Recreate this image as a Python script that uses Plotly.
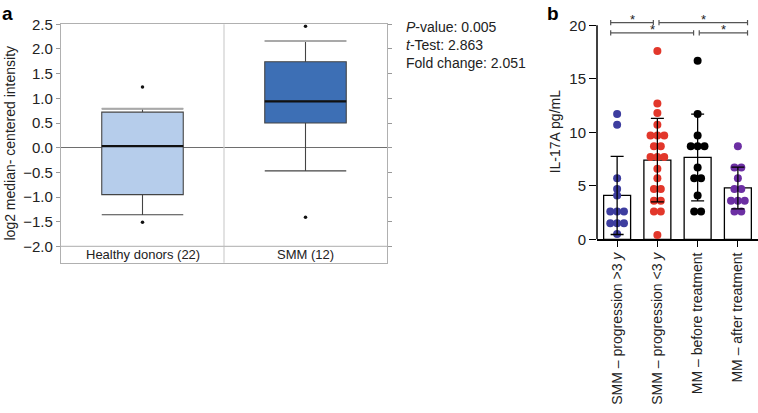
import plotly.graph_objects as go
from collections import Counter

# ---------------- Panel a data ----------------
a_categories = ["Healthy donors (22)", "SMM (12)"]
a_q1 = [-0.95, 0.50]
a_median = [0.03, 0.94]
a_q3 = [0.72, 1.74]
a_lower_whisker = [-1.36, -0.47]
a_upper_whisker = [0.79, 2.16]
a_outliers_healthy = [1.23, -1.51]
a_outliers_smm = [2.46, -1.41]
a_fill = ["#b6cdeb", "#3d6fb5"]
a_yticks = [-2.0, -1.5, -1.0, -0.5, 0.0, 0.5, 1.0, 1.5, 2.0, 2.5]
a_stats = ["<i>P</i>-value: 0.005", "<i>t</i>-Test: 2.863", "Fold change: 2.051"]

# ---------------- Panel b data ----------------
b_categories = ["SMM – progression >3 <i>y</i>", "SMM – progression <3 <i>y</i>",
                "MM – before treatment", "MM – after treatment"]
b_means = [4.1, 7.4, 7.65, 4.8]
b_sd = [3.65, 3.9, 4.05, 1.95]
b_smm_gt3 = [11.7, 10.7, 5.7, 4.7, 4.1, 2.6, 2.6, 2.6, 1.5, 1.5, 1.5, 0.5]
b_smm_lt3 = [17.6, 12.7, 11.8, 10.7, 9.7, 9.7, 9.7, 8.7, 8.7, 7.7, 7.7, 7.7,
             6.6, 5.7, 4.7, 4.7, 3.6, 3.6, 2.6, 2.6, 0.4]
b_mm_before = [16.7, 11.7, 9.7, 8.7, 8.7, 8.7, 6.7, 5.7, 5.7, 4.1, 2.6, 2.6]
b_mm_after = [8.7, 6.7, 6.7, 5.7, 4.7, 4.7, 3.6, 3.6, 3.6, 2.6, 2.6]
b_groups = [b_smm_gt3, b_smm_lt3, b_mm_before, b_mm_after]
b_colors = ["#3d3d9f", "#e2372b", "#000000", "#6c2fa3"]
b_yticks = [0, 5, 10, 15, 20]
b_comparisons = [(0, 1, 1), (1, 3, 1), (0, 2, 2), (2, 3, 2)]  # (from, to, row)

FONT = "Liberation Sans, Arial, Helvetica, sans-serif"
W, H = 758, 413
BOX_W = 0.5

fig = go.Figure()

# ---- Panel a: boxes ----
a_idx = list(range(len(a_categories)))
for i in a_idx:
    fig.add_trace(go.Box(
        x=[i], q1=[a_q1[i]], median=[a_median[i]], q3=[a_q3[i]],
        lowerfence=[a_lower_whisker[i]], upperfence=[a_upper_whisker[i]],
        boxpoints=False, width=BOX_W, whiskerwidth=1,
        fillcolor=a_fill[i], line=dict(color="#444444", width=1.1),
        xaxis="x", yaxis="y", showlegend=False, hoverinfo="skip"))
    fig.add_trace(go.Scatter(
        x=[i - BOX_W / 2, i + BOX_W / 2], y=[a_upper_whisker[i]] * 2, mode="lines",
        line=dict(color="#a9a9a9", width=2), xaxis="x", yaxis="y",
        showlegend=False, hoverinfo="skip"))
    fig.add_trace(go.Scatter(
        x=[i - BOX_W / 2, i + BOX_W / 2], y=[a_median[i]] * 2, mode="lines",
        line=dict(color="#111111", width=2.2), xaxis="x", yaxis="y",
        showlegend=False, hoverinfo="skip"))
for i, outs in zip(a_idx, [a_outliers_healthy, a_outliers_smm]):
    fig.add_trace(go.Scatter(
        x=[i] * len(outs), y=outs, mode="markers",
        marker=dict(color="#111", size=3.5), xaxis="x", yaxis="y",
        showlegend=False, hoverinfo="skip"))

# ---- Panel b: bars ----
idx = list(range(len(b_categories)))
fig.add_trace(go.Bar(
    x=idx, y=b_means, width=0.67,
    marker=dict(color="white", line=dict(color="black", width=1.3)),
    xaxis="x2", yaxis="y2", showlegend=False, hoverinfo="skip"))

spacing = 0.17
for gi, vals in enumerate(b_groups):
    counts = Counter(vals)
    seen = Counter()
    xs, ys = [], []
    for v in vals:
        n = counts[v]
        k = seen[v]
        seen[v] += 1
        xs.append(gi + (k - (n - 1) / 2) * spacing)
        ys.append(v)
    fig.add_trace(go.Scatter(
        x=xs, y=ys, mode="markers",
        marker=dict(color=b_colors[gi], size=8, line=dict(width=0)),
        xaxis="x2", yaxis="y2", showlegend=False, hoverinfo="skip"))

fig.add_trace(go.Scatter(
    x=idx, y=b_means, mode="markers", marker=dict(size=1, opacity=0),
    error_y=dict(type="data", array=b_sd, color="black", thickness=1.3, width=6.5),
    xaxis="x2", yaxis="y2", showlegend=False, hoverinfo="skip"))

shapes = []
annotations = []

shapes.append(dict(type="line", xref="x", yref="y domain", x0=0.5, x1=0.5, y0=0, y1=1,
                   line=dict(color="#cfcfcf", width=1.2)))
shapes.append(dict(type="line", xref="x domain", yref="y", x0=0, x1=1, y0=-2.0, y1=-2.0,
                   line=dict(color="#bdbdbd", width=1.2)))

for i, cat in enumerate(a_categories):
    annotations.append(dict(x=i, y=-2.17, xref="x", yref="y", xanchor="center", text=cat,
                            showarrow=False, font=dict(size=13, color="#222", family=FONT)))

annotations.append(dict(x=404 / W, y=1 - 17 / H, xref="paper", yref="paper",
                        xanchor="left", yanchor="top", align="left",
                        text="<br>".join(a_stats), showarrow=False,
                        font=dict(size=14, color="#222", family=FONT)))

annotations.append(dict(x=10 / W, y=(0.9412 + 0.3639) / 2, xref="paper", yref="paper",
                        xanchor="center", yanchor="middle",
                        text="log2 median- centered intensity", textangle=-90, showarrow=False,
                        font=dict(size=14, color="#222", family=FONT)))
annotations.append(dict(x=555 / W, y=b_yticks[-1] / 2, xref="paper", yref="y2",
                        xanchor="center", yanchor="middle",
                        text="IL-17A pg/mL", textangle=-90, showarrow=False,
                        font=dict(size=14, color="#222", family=FONT)))

annotations.append(dict(x=0, y=1 - 1 / H, xref="paper", yref="paper", xanchor="left", yanchor="top",
                        text="<b>a</b>", showarrow=False, font=dict(size=19, color="#000", family=FONT)))
annotations.append(dict(x=545 / W, y=1 - 1 / H, xref="paper", yref="paper", xanchor="left", yanchor="top",
                        text="<b>b</b>", showarrow=False, font=dict(size=19, color="#000", family=FONT)))

shapes.append(dict(type="line", xref="x2 domain", yref="y2", x0=0, x1=0, y0=0, y1=b_yticks[-1],
                   line=dict(color="black", width=1.5)))

last = len(b_categories) - 1
row_y = {1: 20.25, 2: 19.3}
for (i, j, row) in b_comparisons:
    x0 = i - 0.16 if i == 0 else i + 0.04
    x1 = j + 0.24 if j == last else j - 0.1
    y = row_y[row]
    c = dict(color="#555", width=1.2)
    shapes.append(dict(type="line", xref="x2", yref="y2", x0=x0, x1=x1, y0=y, y1=y, line=c))
    for xe in (x0, x1):
        shapes.append(dict(type="line", xref="x2", yref="y2", x0=xe, x1=xe, y0=y - 0.25, y1=y + 0.25, line=c))
    annotations.append(dict(x=(x0 + x1) / 2, y=y, xref="x2", yref="y2", xanchor="center",
                            yanchor="bottom", text="*", showarrow=False, yshift=-6,
                            font=dict(size=13, color="#222", family=FONT)))

fig.update_layout(
    width=W, height=H, margin=dict(l=0, r=0, t=0, b=0, autoexpand=False),
    paper_bgcolor="white", plot_bgcolor="white",
    font=dict(family=FONT, size=14, color="#222"),
    showlegend=False,
    xaxis=dict(domain=[61 / W, 387 / W], range=[-0.5, 1.5],
               showticklabels=False, ticks="", showgrid=False, zeroline=False,
               showline=True, mirror=True, linecolor="#b0b0b0", linewidth=1.2),
    yaxis=dict(domain=[0.3639, 0.9412], range=[-2.33, 2.5], tickvals=a_yticks, tickformat=".1f",
               ticks="outside", ticklen=4, tickcolor="#999", mirror="ticks",
               showline=True, linecolor="#b0b0b0", linewidth=1.2,
               showgrid=False, zeroline=True, zerolinecolor="#6e6e6e", zerolinewidth=1.2,
               tickfont=dict(size=15, color="#222")),
    xaxis2=dict(domain=[597 / W, 1.0], range=[-0.5, 3.5], tickvals=idx, ticktext=b_categories,
                tickangle=-90, ticks="outside", ticklen=6, tickwidth=1.3, tickcolor="black",
                showline=True, linecolor="black", linewidth=1.5, showgrid=False, zeroline=False,
                anchor="y2", tickfont=dict(size=14, color="#222")),
    yaxis2=dict(domain=[1 - 239.3 / H, 1 - 8.2 / H], range=[0, 21.6], tickvals=b_yticks,
                ticks="outside", ticklen=7, tickwidth=1.3, tickcolor="black",
                showline=False, showgrid=False, zeroline=False, anchor="x2",
                tickfont=dict(size=15, color="#222")),
    shapes=shapes, annotations=annotations,
)

fig.write_html("out.html", config={"displayModeBar": False},
               post_script="document.body.style.margin='0px';")
